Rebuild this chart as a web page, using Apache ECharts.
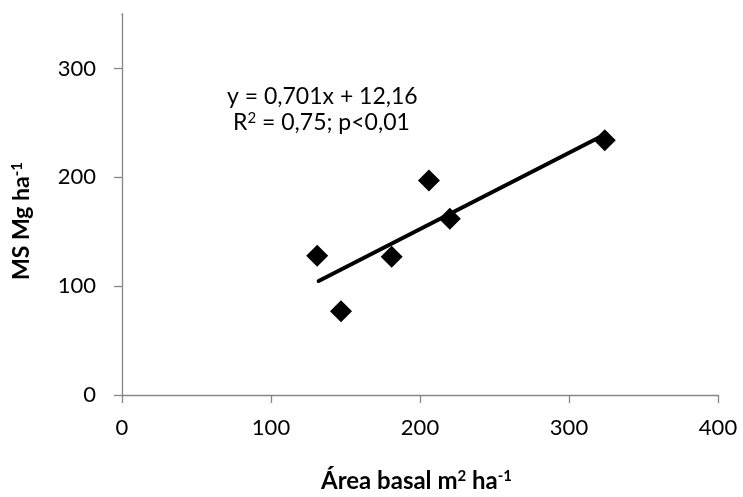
<!DOCTYPE html>
<html><head><meta charset="utf-8">
<script src="https://cdn.jsdelivr.net/npm/echarts@6/dist/echarts.min.js"></script>
<style>html,body{margin:0;padding:0;background:#fff}#c{width:743px;height:497px}</style>
</head><body><div id="c"></div>
<script>
var xValues = [131, 147, 181, 206, 220, 324];
var yValues = [128, 77, 127, 197, 162, 234];
var slope = 0.701, intercept = 12.16;
var trendRange = [132, 325];
var xTicks = [0, 100, 200, 300, 400];
var yTicks = [0, 100, 200, 300];
var eqLine1 = 'y = 0,701x + 12,16';
var eqLine2 = '{t|R}{s|2}{t| = 0,75; p<0,01}';

var FONT = 'Lato';
var chart = echarts.init(document.getElementById('c'), null, {renderer: 'canvas'});
var pts = xValues.map(function (x, i) { return [x, yValues[i]]; });
var trend = trendRange.map(function (x) { return [x, slope * x + intercept]; });
var axisCol = '#868686';
var gridLeft = 122, gridTop = 14;
chart.setOption({
  animation: false,
  grid: {left: gridLeft, right: 25, top: gridTop, bottom: 102, containLabel: false},
  xAxis: {
    type: 'value', min: 0, max: 400, interval: 100,
    splitLine: {show: false},
    axisLine: {onZero: false, lineStyle: {color: axisCol, width: 1.3}},
    axisTick: {show: true, length: 8, inside: false, lineStyle: {color: axisCol, width: 1.3}},
    axisLabel: {color: '#000', fontFamily: FONT, fontSize: 22, margin: 22}
  },
  yAxis: {
    type: 'value', min: 0, max: 350, interval: 100,
    splitLine: {show: false},
    axisLine: {show: true, onZero: false, lineStyle: {color: axisCol, width: 1.3}},
    axisTick: {show: true, length: 8, inside: false, lineStyle: {color: axisCol, width: 1.3}},
    axisLabel: {color: '#000', fontFamily: FONT, fontSize: 22, margin: 26, customValues: yTicks}
  },
  series: [
    {type: 'line', data: trend, symbol: 'none', lineStyle: {color: '#000', width: 4, cap: 'round'}, z: 2},
    {type: 'scatter', data: pts, symbol: 'diamond', symbolSize: 22, itemStyle: {color: '#000', opacity: 1}, z: 3}
  ],
  graphic: [
    {type: 'rect', shape: {x: gridLeft - 12, y: gridTop - 4, width: 11.3, height: 8}, style: {fill: '#fff'}, z: 100},
    {type: 'text', top: 85, left: 227, style: {text: eqLine1, fontFamily: FONT, fontSize: 23, fill: '#000'}},
    {type: 'text', top: 111, left: 233, style: {text: eqLine2, fontFamily: FONT, fontSize: 23, fill: '#000',
      rich: {t: {fontFamily: FONT, fontSize: 23}, s: {fontFamily: FONT, fontSize: 15, verticalAlign: 'top', padding: [0,0,8,0]}}}},
    {type: 'text', left: 321, top: 469, style: {text: '{b|Área basal m}{s|2}{b| ha}{s|-1}', fill: '#000',
      rich: {b: {fontFamily: FONT, fontSize: 24, fontWeight: 'bold'}, s: {fontFamily: FONT, fontSize: 15, fontWeight: 'bold', verticalAlign: 'top', padding: [0,0,9,0]}}}},
    {type: 'text', x: 10, y: 280, rotation: Math.PI / 2, style: {text: '{b|MS Mg ha}{s|-1}', fill: '#000',
      rich: {b: {fontFamily: FONT, fontSize: 23, fontWeight: 'bold'}, s: {fontFamily: FONT, fontSize: 15, fontWeight: 'bold', verticalAlign: 'top', padding: [0,0,9,0]}}}}
  ]
});
</script></body></html>
